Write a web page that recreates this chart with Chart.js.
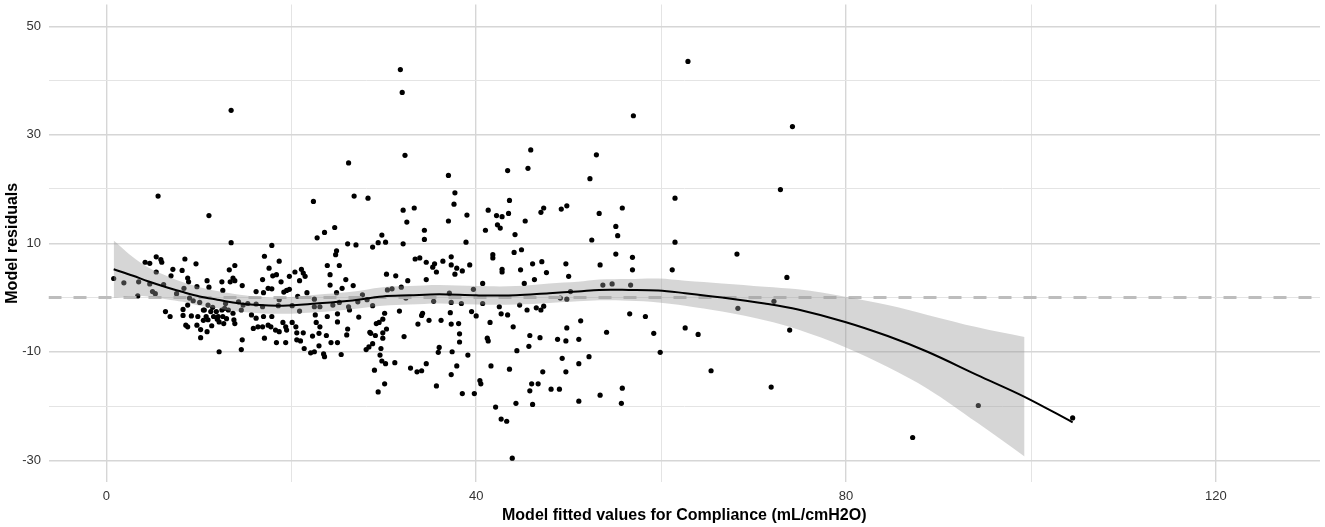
<!DOCTYPE html>
<html>
<head>
<meta charset="utf-8">
<title>Model residuals</title>
<script src="https://cdn.jsdelivr.net/npm/chart.js@4.4.1/dist/chart.umd.min.js"></script>
<style>
  html, body { margin: 0; padding: 0; background: #fff; }
  #wrap { width: 1325px; height: 527px; position: relative; }
</style>
</head>
<body>
<div id="wrap"><canvas id="residualChart"></canvas></div>
<script>
// axis ticks (minor ticks get a grid line but no label)
const xTicks = [0, 20, 40, 60, 80, 100, 120];
const xLabelled = [0, 40, 80, 120];
const yTicks = [-30, -20, -10, 0, 10, 20, 30, 40, 50];
const yLabelled = [-30, -10, 10, 30, 50];

// loess smooth
const smoothX = [0.8, 2.9, 4.5, 6.5, 8.3, 10.1, 12.0, 13.7, 16.6, 19.1, 22.7, 26.3, 29.9, 32.8, 36.0, 40.0,
  44.3, 47.9, 51.0, 53.3, 56.5, 59.7, 62.6, 66.6, 71.2, 74.8, 79.9, 84.5, 88.8, 94.2, 99.3, 104.5];
const smoothY = [5.2, 4.0, 3.0, 1.9, 1.0, 0.2, -0.4, -0.9, -1.4, -1.5, -1.1, -0.6, 0.2, 0.4, 0.6, 0.4,
  0.4, 0.8, 1.1, 1.4, 1.4, 1.3, 0.8, 0.0, -1.1, -2.2, -4.5, -7.1, -10.0, -14.3, -18.3, -23.0];

// confidence band (stops before the last fitted value)
const bandX = [0.8, 2.9, 4.5, 6.5, 8.3, 10.1, 12.0, 13.7, 16.6, 19.1, 22.7, 26.3, 29.9, 32.8, 36.0, 40.0,
  44.3, 47.9, 51.0, 53.3, 56.5, 59.7, 62.6, 66.6, 71.2, 74.8, 79.9, 84.5, 88.8, 94.2, 99.3];
const bandUpper = [10.5, 7.4, 5.6, 4.0, 2.8, 1.9, 1.2, 0.7, 0.1, 0.0, 0.5, 1.0, 1.9, 2.1, 2.3, 2.1,
  2.1, 2.6, 2.9, 3.3, 3.4, 3.5, 3.1, 2.6, 2.0, 1.5, 0.15, -1.4, -3.2, -5.5, -7.3];
const bandLower = [-0.1, 0.3, 0.2, -0.3, -0.8, -1.5, -2.0, -2.5, -2.9, -3.0, -2.7, -2.2, -1.5, -1.3, -1.1, -1.3,
  -1.3, -1.0, -0.7, -0.5, -0.6, -0.9, -1.5, -2.6, -4.2, -5.9, -9.15, -12.8, -16.8, -23.1, -29.3];

// [fitted value, residual]
const residualPoints = [
  [5.6,18.7],[11.1,15.1],[13.5,10.1],[0.8,3.5],[1.9,2.7],[3.5,2.9],[3.4,0.3],[4.2,6.5],[4.7,6.3],[5.4,7.5],
  [5.9,7.0],[6.0,6.5],[5.4,4.7],[4.7,2.5],[5.0,1.1],[5.3,0.7],[6.2,2.4],[6.4,-2.6],[6.9,-3.5],[7.0,4.0],
  [7.2,5.2],[8.2,5.0],[8.5,7.1],[7.6,0.7],[8.4,1.7],[8.9,2.9],[8.8,3.6],[9.7,6.2],[9.8,2.0],[10.9,3.1],
  [11.1,1.9],[12.5,2.9],[12.6,1.3],[13.3,5.1],[13.4,2.9],[13.9,5.9],[13.7,3.6],[13.9,3.1],[14.7,2.2],[16.2,1.1],
  [8.3,-3.3],[9.0,-0.1],[8.8,-1.4],[8.3,-2.2],[8.6,-5.1],[8.8,-5.4],[9.2,-3.4],[9.8,-5.1],[10.2,-5.9],[10.2,-7.4],
  [10.9,-6.3],[9.4,-0.6],[10.1,-0.9],[10.5,-2.3],[11.0,-1.4],[10.8,-3.5],[11.3,-2.6],[11.6,-3.5],[11.9,-2.6],[12.1,-3.5],
  [12.2,-4.5],[12.5,-2.3],[12.6,-3.5],[12.7,-4.8],[12.9,-1.1],[13.2,-2.3],[13.7,-2.9],[13.9,-4.8],[14.3,-0.8],[14.6,-2.3],
  [15.3,-1.1],[15.7,-3.2],[16.2,-3.8],[15.9,-5.7],[16.4,-5.4],[12.2,-10.0],[14.7,-7.8],[14.6,-9.6],[14.8,-1.4],
  [11.5,-1.8],[12.0,-4.0],[13.0,-3.9],[10.5,-4.2],[11.4,-5.2],[9.9,-3.5],[11.0,-4.1],[13.8,-4.1],[12.8,-2.0],[10.6,-2.3],
  [22.4,17.7],[26.8,18.7],[28.3,18.3],[22.8,11.0],[23.6,12.0],[24.7,12.9],[17.9,9.6],[17.1,7.6],[18.7,6.7],[17.6,5.4],
  [18.0,4.0],[18.4,4.2],[16.9,3.3],[18.9,2.9],[19.8,3.9],[20.4,4.7],[21.1,5.2],[21.3,4.5],[21.5,3.9],[20.9,3.1],
  [17.5,1.7],[17.9,1.6],[17.0,0.9],[19.2,1.0],[19.5,1.3],[19.8,1.5],[21.7,0.9],[20.7,0.2],[23.9,5.9],[24.2,4.2],
  [24.9,8.6],[24.8,7.9],[25.2,5.9],[24.2,2.3],[25.5,1.7],[25.9,3.3],[26.7,2.2],[26.1,9.9],[27.0,9.7],[24.9,0.9],
  [27.7,0.5],[30.3,4.3],[31.3,4.0],[30.4,1.4],[30.9,1.6],[28.8,9.3],[29.4,10.1],[29.8,11.5],[30.2,10.2],
  [16.2,-1.2],[16.9,-1.7],[18.6,-1.5],[18.7,-0.4],[20.1,-1.5],[20.9,-2.5],[22.5,-0.3],[22.5,-1.7],[23.1,-1.7],[24.5,-1.4],
  [25.2,-0.9],[26.2,-1.7],[26.3,-2.3],[27.2,-0.8],[28.2,-0.4],[28.8,-1.5],[17.0,-3.5],[17.9,-3.5],[16.9,-5.4],[17.5,-5.1],
  [17.8,-5.4],[17.1,-7.5],[18.3,-6.0],[18.7,-6.3],[19.1,-4.6],[19.4,-5.4],[19.5,-6.0],[18.4,-8.3],[19.4,-8.3],[20.1,-4.6],
  [20.5,-5.4],[20.6,-6.5],[21.3,-6.5],[20.6,-7.8],[21.0,-8.0],[21.4,-9.4],[22.1,-10.2],[22.5,-10.0],[23.0,-8.9],[23.5,-10.4],
  [23.6,-10.9],[22.6,-3.2],[22.7,-4.6],[23.1,-5.4],[23.0,-6.6],[22.3,-7.1],[23.9,-3.5],[23.8,-7.0],[24.3,-8.3],[25.0,-8.3],
  [25.0,-3.0],[25.0,-4.5],[25.4,-10.5],[26.0,-6.9],[26.1,-5.8],[27.3,-3.6],[28.5,-6.4],[28.6,-6.6],[29.1,-7.0],[28.8,-8.5],
  [28.1,-9.6],[28.4,-9.1],[29.7,-9.4],[29.6,-10.6],[29.2,-4.8],[29.5,-4.6],[29.9,-4.0],[30.1,-2.9],[29.9,-6.5],[30.3,-5.8],
  [29.9,-7.5],[30.2,-12.2],[29.8,-11.7],[29.0,-13.4],[30.1,-15.9],[29.4,-17.4],[31.2,-12.0],
  [13.5,34.5],[31.8,42.0],[32.0,37.8],[26.2,24.8],
  [32.3,26.2],[37.0,22.5],[43.4,23.4],[45.9,27.2],[45.6,23.8],[37.7,19.3],[37.6,17.2],[32.1,16.1],[33.3,16.5],[32.5,13.9],
  [37.0,14.1],[39.0,15.2],[41.3,16.1],[42.2,15.1],[42.8,14.9],[43.5,15.5],[43.6,17.9],[42.3,13.4],[42.6,12.8],[41.0,12.4],
  [45.3,14.1],[47.0,15.7],[47.3,16.5],[49.2,16.3],[49.8,16.9],[34.4,12.4],[34.4,10.7],[32.1,9.9],[38.9,10.2],[44.2,11.6],
  [44.1,8.3],[44.9,8.8],[41.8,7.9],[41.8,7.3],[42.8,5.2],[42.8,4.7],[33.4,7.1],[33.9,7.3],[34.6,6.5],[35.5,6.2],
  [35.3,5.6],[35.7,4.7],[36.4,6.7],[37.3,7.5],[37.3,6.0],[37.7,4.3],[37.9,5.4],[38.5,4.9],[39.3,6.0],[40.7,2.6],
  [32.6,3.1],[34.6,3.3],[31.9,1.9],[44.8,5.1],[45.2,2.6],[46.1,6.2],[46.3,3.3],[47.1,6.6],[47.6,4.6],[49.7,6.2],
  [50.0,3.9],[50.2,1.1],[37.1,0.8],[39.7,1.5],[32.4,-0.1],[35.4,-0.7],[37.3,-0.9],[38.4,-1.1],[40.7,-1.1],[42.5,-1.7],
  [44.7,-1.4],[45.5,-2.3],[46.5,-1.9],[47.0,-2.3],[47.3,-1.6],[49.1,-0.1],[49.8,-0.3],[31.7,-2.5],[34.2,-2.9],[34.1,-3.3],
  [34.9,-4.2],[33.7,-4.9],[36.2,-4.2],[37.2,-2.8],[37.3,-4.9],[38.1,-4.8],[39.5,-2.6],[40.0,-3.4],[41.5,-4.6],[42.7,-3.0],
  [43.4,-3.2],[44.0,-5.4],[32.2,-7.2],[38.2,-6.7],[38.2,-8.2],[41.2,-7.5],[41.3,-8.0],[45.8,-7.0],[45.7,-9.0],[46.9,-7.4],
  [48.8,-7.7],[49.7,-8.0],[49.8,-5.6],[36.0,-9.2],[35.9,-10.1],[37.4,-10.0],[39.1,-10.6],[44.4,-9.8],[49.3,-11.2],[49.7,-13.7],
  [32.9,-13.0],[33.6,-13.7],[34.1,-13.5],[34.6,-12.2],[37.9,-12.6],[37.3,-14.2],[41.6,-12.6],[43.6,-13.2],[47.2,-13.7],[35.7,-16.3],
  [40.4,-15.3],[40.5,-15.9],[38.5,-17.7],[39.8,-17.7],[45.8,-17.2],[46.0,-15.9],[46.7,-15.9],[48.1,-16.9],[49.0,-16.9],[44.3,-19.5],
  [46.1,-19.7],[42.1,-20.2],[42.7,-22.4],[43.3,-22.8],[43.9,-29.6],
  [62.9,43.5],[57.0,33.5],[74.2,31.5],[53.0,26.3],[52.3,21.9],[72.9,19.9],[61.5,18.3],[53.3,15.5],[55.8,16.5],[55.1,13.1],
  [55.3,11.4],[52.5,10.6],[61.5,10.2],[68.2,8.0],[53.4,6.0],[55.1,8.0],[56.9,7.4],[56.9,5.1],[61.2,5.1],[73.6,3.7],
  [53.7,2.3],[54.7,2.5],[56.7,2.3],[72.2,-0.7],[68.3,-2.0],[56.6,-3.0],[58.3,-3.5],[51.3,-4.3],[62.6,-5.6],[54.1,-6.4],
  [64.0,-6.8],[73.9,-6.0],[59.2,-6.6],[51.1,-7.7],[59.9,-10.1],[52.2,-10.9],[51.1,-12.2],[65.4,-13.5],[71.9,-16.5],[55.8,-16.7],
  [53.4,-18.0],[55.7,-19.5],[51.1,-19.1],
  [94.3,-19.9],[87.2,-25.8],[104.5,-22.2]
];

document.addEventListener('DOMContentLoaded', function () {
    const ctx = document.getElementById('residualChart').getContext('2d');
    const fontFamily = "'Liberation Sans', Arial, sans-serif";
    const toXY = (xs, ys) => xs.map((x, i) => ({ x: x, y: ys[i] }));

    function gridStyle(labelled) {
        return {
            color: c => labelled.includes(c.tick.value) ? '#d6d6d6' : '#e4e4e4',
            lineWidth: c => labelled.includes(c.tick.value) ? 1.4 : 1,
            drawTicks: false
        };
    }

    // stop the axes from reserving room for edge labels
    function noEdgePadding(axis) {
        axis.paddingTop = 0;
        axis.paddingBottom = 0;
        axis.paddingLeft = 0;
        axis.paddingRight = 0;
    }

    new Chart(ctx, {
        type: 'scatter',
        data: {
            datasets: [
                {
                    label: 'loess',
                    type: 'line',
                    data: toXY(smoothX, smoothY),
                    borderColor: '#000',
                    borderWidth: 2,
                    pointRadius: 0,
                    tension: 0.35,
                    fill: false,
                    order: 0
                },
                {
                    label: 'upper',
                    type: 'line',
                    data: toXY(bandX, bandUpper),
                    borderColor: 'transparent',
                    borderWidth: 0,
                    pointRadius: 0,
                    tension: 0.35,
                    fill: false,
                    order: 1
                },
                {
                    label: 'lower',
                    type: 'line',
                    data: toXY(bandX, bandLower),
                    borderColor: 'transparent',
                    borderWidth: 0,
                    pointRadius: 0,
                    tension: 0.35,
                    fill: '-1',
                    backgroundColor: 'rgba(153, 153, 153, 0.4)',
                    order: 1
                },
                {
                    label: 'zero',
                    type: 'line',
                    data: [{ x: -6.25, y: 0 }, { x: 131.25, y: 0 }],
                    borderColor: '#bdbdbd',
                    borderWidth: 2.8,
                    borderDash: [13, 12],
                    pointRadius: 0,
                    fill: false,
                    order: 2
                },
                {
                    label: 'residuals',
                    data: residualPoints.map(p => ({ x: p[0], y: p[1] })),
                    backgroundColor: '#000',
                    borderWidth: 0,
                    pointRadius: 2.6,
                    order: 3
                }
            ]
        },
        options: {
            responsive: true,
            maintainAspectRatio: false,
            animation: false,
            events: [],
            layout: { padding: { top: 4.5, right: 5, bottom: 0, left: 0 } },
            plugins: {
                legend: { display: false },
                tooltip: { enabled: false }
            },
            scales: {
                x: {
                    type: 'linear',
                    min: -6.25,
                    max: 131.25,
                    afterBuildTicks: axis => { axis.ticks = xTicks.map(v => ({ value: v })); },
                    afterFit: axis => { axis.height = 45; noEdgePadding(axis); },
                    grid: gridStyle(xLabelled),
                    border: { display: false },
                    ticks: {
                        autoSkip: false,
                        maxRotation: 0,
                        padding: 7,
                        color: '#333',
                        font: { family: fontFamily, size: 13 },
                        callback: v => xLabelled.includes(v) ? String(v) : ''
                    },
                    title: {
                        display: true,
                        text: 'Model fitted values for Compliance (mL/cmH2O)',
                        color: '#000',
                        font: { family: fontFamily, size: 16, weight: 'bold' },
                        padding: { top: 0, bottom: 2 }
                    }
                },
                y: {
                    type: 'linear',
                    min: -34,
                    max: 54,
                    afterBuildTicks: axis => { axis.ticks = yTicks.map(v => ({ value: v })); },
                    afterFit: axis => { axis.width = 48.5; noEdgePadding(axis); },
                    grid: gridStyle(yLabelled),
                    border: { display: false },
                    ticks: {
                        autoSkip: false,
                        padding: 7.5,
                        color: '#333',
                        font: { family: fontFamily, size: 13 },
                        callback: v => yLabelled.includes(v) ? String(v) : ''
                    },
                    title: {
                        display: true,
                        text: 'Model residuals',
                        color: '#000',
                        font: { family: fontFamily, size: 16, weight: 'bold' },
                        padding: { top: 3, bottom: 0 }
                    }
                }
            }
        }
    });
});
</script>
</body>
</html>
